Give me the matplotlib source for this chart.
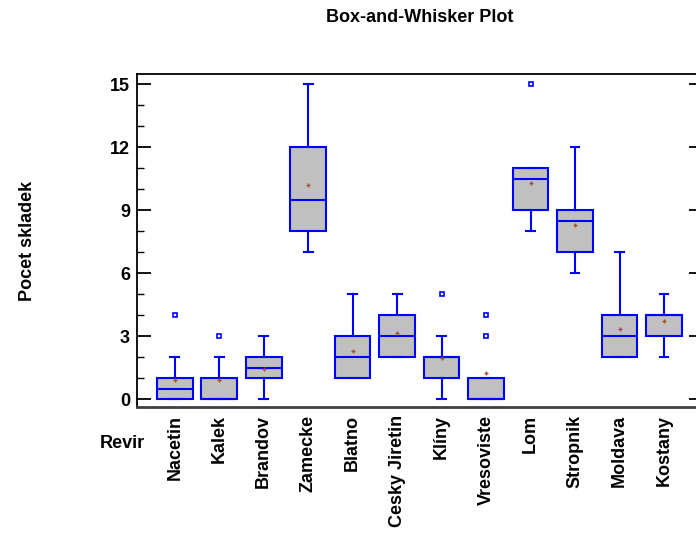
import numpy as np
import matplotlib
matplotlib.use('Agg')
import matplotlib.pyplot as plt
from matplotlib.ticker import MultipleLocator

plt.rcParams['font.family'] = ['Liberation Sans', 'DejaVu Sans']
plt.rcParams['font.weight'] = 'bold'

# Pocet skladek per revir -- five-number summaries, means and outliers
revir = ['Nacetin', 'Kalek', 'Brandov', 'Zamecke', 'Blatno', 'Cesky Jiretin',
         'Klíny', 'Vresoviste', 'Lom', 'Stropnik', 'Moldava', 'Kostany']
whis_lo = [0, 0, 0, 7, 1, 2, 0, 0, 8, 6, 2, 2]
q1 = [0, 0, 1, 8, 1, 2, 1, 0, 9, 7, 2, 3]
median = [0.5, 0, 1.5, 9.5, 2, 3, 2, 0, 10.5, 8.5, 3, 4]
q3 = [1, 1, 2, 12, 3, 4, 2, 1, 11, 9, 4, 4]
whis_hi = [2, 2, 3, 15, 5, 5, 3, 1, 11, 12, 7, 5]
means = [0.93, 0.93, 1.45, 10.2, 2.3, 3.13, 1.95, 1.23, 10.3, 8.3, 3.33, 3.73]
outliers = [[4], [3], [], [], [], [], [5], [3, 4], [15], [], [], []]

BLUE = '#0000FF'
BOX_FILL = '#C0C0C0'
MEAN_CLR = '#A0522D'
FS = 13

fig = plt.figure(figsize=(6.96, 5.34), dpi=100)
ax = fig.add_axes([0.1968, 0.2378, 0.8032, 0.6236])

stats = []
for i, name in enumerate(revir):
    stats.append({'label': name, 'whislo': whis_lo[i], 'q1': q1[i],
                  'med': median[i], 'q3': q3[i], 'whishi': whis_hi[i],
                  'mean': means[i], 'fliers': np.array(outliers[i], dtype=float)})

pos = np.arange(1, len(revir) + 1)
ax.bxp(stats, positions=pos, widths=0.8, capwidths=0.2,
       patch_artist=True, showmeans=True, showfliers=True,
       boxprops=dict(facecolor=BOX_FILL, edgecolor=BLUE, linewidth=1.5),
       medianprops=dict(color=BLUE, linewidth=1.5),
       whiskerprops=dict(color=BLUE, linewidth=1.5),
       capprops=dict(color=BLUE, linewidth=1.5),
       meanprops=dict(marker='+', markeredgecolor=MEAN_CLR, markersize=3.5,
                      markeredgewidth=1.0, linestyle='none'),
       flierprops=dict(marker='s', markerfacecolor='none', markeredgecolor=BLUE,
                       markersize=2.8, markeredgewidth=1.2, linestyle='none'))

ax.set_xlim(0.15, 12.72)
ax.set_ylim(-0.38, 15.48)

ax.set_xticks(pos)
ax.set_xticklabels(revir, rotation=90, fontsize=FS, fontweight='bold',
                   va='top', ha='center')
ax.tick_params(axis='x', length=0, pad=6)

ax.yaxis.set_major_locator(MultipleLocator(3))
ax.yaxis.set_minor_locator(MultipleLocator(1))
ax.tick_params(axis='y', which='major', direction='in', length=10, width=1.3,
               labelsize=FS, pad=5, right=False)
ax.tick_params(axis='y', which='minor', direction='in', length=5, width=1.0,
               right=False)
for lab in ax.get_yticklabels():
    lab.set_fontweight('bold')

# shorter major ticks on the right side
rax = ax.twinx()
rax.set_ylim(ax.get_ylim())
rax.yaxis.set_major_locator(MultipleLocator(3))
rax.tick_params(axis='y', direction='in', length=5, width=1.3, labelright=False)
for s in rax.spines.values():
    s.set_visible(False)

ax.spines['right'].set_visible(False)
ax.spines['left'].set_linewidth(1.3)
ax.spines['top'].set_linewidth(1.3)
ax.spines['bottom'].set_linewidth(2.0)
ax.spines['bottom'].set_color('#404040')

fig.text(0.603, 0.968, 'Box-and-Whisker Plot', ha='center', va='center',
         fontsize=FS, fontweight='bold')
fig.text(0.039, 0.5496, 'Pocet skladek', rotation=90, ha='center', va='center',
         fontsize=FS, fontweight='bold')
fig.text(0.2083, 0.170, 'Revir', ha='right', va='center',
         fontsize=FS, fontweight='bold')

fig.savefig('out.png', dpi=100)
